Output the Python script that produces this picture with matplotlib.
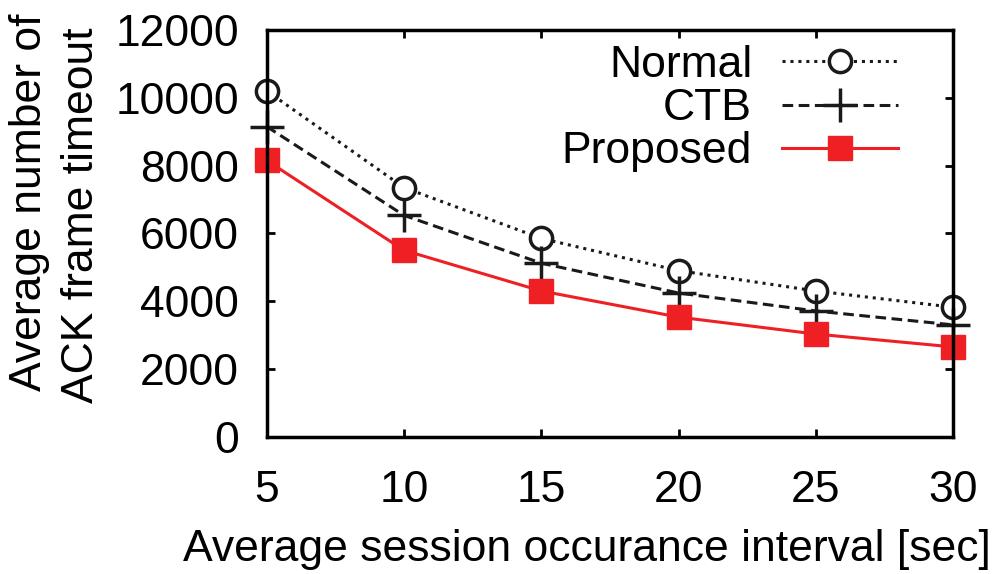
import matplotlib
matplotlib.use("Agg")
import matplotlib.pyplot as plt

x = [5, 10, 15, 20, 25, 30]
normal = [10200, 7350, 5850, 4900, 4300, 3820]
ctb = [9150, 6530, 5120, 4240, 3710, 3300]
proposed = [8150, 5500, 4300, 3530, 3030, 2650]
xticks = [5, 10, 15, 20, 25, 30]
yticks = [0, 2000, 4000, 6000, 8000, 10000, 12000]

FS = 32
plt.rcParams['font.family'] = ['Liberation Sans', 'DejaVu Sans']
fig = plt.figure(figsize=(9.95, 5.74), dpi=100)
ax = fig.add_axes([0.268, 0.239, 0.690, 0.709])

ax.plot(x, normal, color='#1a1a1a', linestyle=(0, (1, 1.6)), lw=2.2, marker='o', ms=16,
        mfc='white', mec='#1a1a1a', mew=2.5, label='Normal', clip_on=False)
ax.plot(x, ctb, color='#1a1a1a', linestyle=(0, (3.5, 1.8)), lw=2.2, marker='+', ms=24,
        mew=2.5, label='CTB', clip_on=False)
ax.plot(x, proposed, color='#ee2024', linestyle='-', lw=2.2, marker='s', ms=17,
        mec='#ee2024', label='Proposed', clip_on=False)

ax.set_xlim(5, 30)
ax.set_ylim(0, 12000)
ax.set_xticks(xticks)
ax.set_yticks(yticks)
ax.tick_params(direction='in', length=6, width=2, labelsize=FS,
               top=True, right=True)
ax.tick_params(axis='x', pad=24)
ax.tick_params(axis='y', pad=20)
for s in ax.spines.values():
    s.set_linewidth(2.5)

fig.text(587 / 995, 1 - 550 / 574, 'Average session occurance interval [sec]',
         fontsize=FS, ha='center', va='center')
fig.text(30 / 995, 1 - 202 / 574, 'Average number of', rotation=90, fontsize=FS,
         ha='center', va='center')
fig.text(82 / 995, 1 - 215 / 574, 'ACK frame timeout', rotation=90, fontsize=FS,
         ha='center', va='center')

leg = ax.legend(loc='upper right', frameon=False, fontsize=FS, markerfirst=False,
                handlelength=2.6, labelspacing=0.05, borderaxespad=0.0, borderpad=0.0,
                handletextpad=0.68, bbox_to_anchor=(898 / 995, 1 - 45 / 574),
                bbox_transform=fig.transFigure)
fig.savefig('out.png', dpi=100)
